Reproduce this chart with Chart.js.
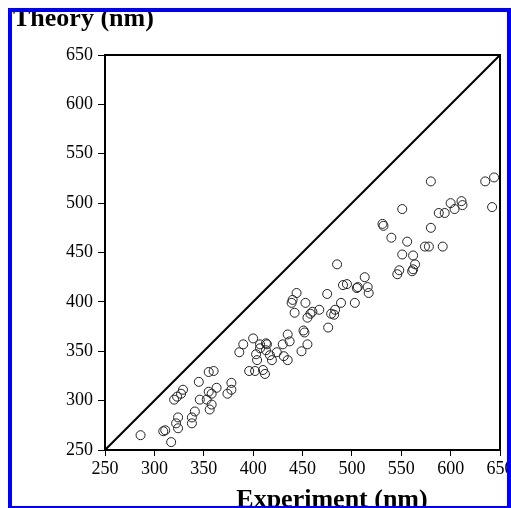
<!DOCTYPE html>
<html lang="en">
<head>
<meta charset="UTF-8">
<title>Theory vs Experiment</title>
<script src="https://cdn.jsdelivr.net/npm/chart.js@4.4.1/dist/chart.umd.min.js"></script>
<style>
    html, body {
        margin: 0;
        padding: 0;
        background: #fff;
        overflow: hidden;
    }

    .frame {
        position: absolute;
        left: 8px;
        top: 8px;
        width: 503px;
        height: 502px;
        box-sizing: border-box;
        border: 4px solid #0000ff;
        overflow: hidden;
        background: #fff;
    }

    .chart-box {
        position: relative;
        width: 495px;
        height: 494px;
    }
</style>
</head>
<body>

<div class="frame">
    <div class="chart-box">
        <canvas id="parityChart"></canvas>
    </div>
</div>

<script>
// measured wavelengths (nm)
const experiment = [
    286, 309, 311, 317, 322, 324, 324, 338, 338, 341,
    320, 323, 327, 329, 345, 346, 353, 356, 358, 355,
    358, 363, 355, 360, 374, 378, 378, 386, 390, 400,
    396, 402, 412, 403, 404, 407, 414, 413, 417, 419,
    424, 430, 431, 435, 435, 437, 451, 452, 455, 449,
    439, 440, 442, 444, 453, 458, 460, 455, 467, 475,
    476, 479, 482, 483, 485, 489, 491, 495, 503, 505,
    506, 513, 516, 517, 531, 532, 540, 546, 548, 551,
    551, 556, 561, 562, 562, 564, 574, 578, 580, 580,
    588, 592, 594, 600, 604, 611, 612, 635, 642, 644,
    407, 413, 410
];
// computed wavelengths (nm)
const theory = [
    265, 269, 270, 258, 277, 272, 283, 277, 283, 289,
    301, 304, 307, 311, 319, 301, 301, 291, 296, 309,
    307, 313, 329, 330, 307, 318, 311, 349, 357, 363,
    330, 330, 327, 347, 341, 353, 357, 351, 346, 341,
    349, 357, 345, 341, 367, 360, 371, 369, 357, 350,
    399, 402, 389, 409, 399, 388, 390, 384, 392, 408,
    374, 388, 387, 392, 438, 399, 417, 418, 399, 414,
    415, 425, 415, 409, 479, 477, 465, 428, 432, 448,
    494, 461, 431, 433, 447, 438, 456, 456, 475, 522,
    490, 456, 490, 500, 494, 502, 498, 522, 496, 526,
    357, 358, 331
];
const axisMin = 250;
const axisMax = 650;
const axisStep = 50;

const points = experiment.map((x, i) => ({ x: x, y: theory[i] }));
const parityLine = [{ x: axisMin, y: axisMin }, { x: axisMax, y: axisMax }];

const serif = '"Liberation Serif", "DejaVu Serif", serif';

// closes the plot box on all four sides
const boxPlugin = {
    id: 'plotBox',
    afterDatasetsDraw(chart) {
        const a = chart.chartArea;
        const ctx = chart.ctx;
        ctx.save();
        ctx.strokeStyle = '#000';
        ctx.lineWidth = 2;
        ctx.strokeRect(a.left, a.top, a.right - a.left, a.bottom - a.top);
        ctx.restore();
    }
};

// axis titles sit where the original figure put them
const titlePlugin = {
    id: 'axisTitles',
    afterDraw(chart) {
        const ctx = chart.ctx;
        ctx.save();
        ctx.fillStyle = '#000';
        ctx.font = 'bold 26px ' + serif;
        ctx.textBaseline = 'alphabetic';
        ctx.textAlign = 'left';
        ctx.fillText('Theory (nm)', 1, 14);
        ctx.textAlign = 'center';
        ctx.fillText('Experiment (nm)', 320, 495);
        ctx.restore();
    }
};

const tickFont = { family: serif, size: 18 };

new Chart(document.getElementById('parityChart'), {
    type: 'scatter',
    data: {
        datasets: [
            {
                type: 'line',
                data: parityLine,
                borderColor: '#000',
                borderWidth: 2,
                pointRadius: 0,
                fill: false
            },
            {
                data: points,
                pointRadius: 4.5,
                pointBorderWidth: 1,
                pointBorderColor: '#222',
                pointBackgroundColor: 'rgba(0,0,0,0)'
            }
        ]
    },
    options: {
        responsive: true,
        maintainAspectRatio: false,
        animation: false,
        layout: { padding: { top: 43, right: 7, left: 0, bottom: 0 } },
        plugins: {
            legend: { display: false },
            tooltip: { enabled: false }
        },
        scales: {
            x: {
                type: 'linear',
                min: axisMin,
                max: axisMax,
                ticks: { stepSize: axisStep, color: '#000', font: tickFont, padding: 2, autoSkip: false, maxRotation: 0 },
                grid: { drawOnChartArea: false, tickLength: 6, color: '#000', lineWidth: 1 },
                border: { color: '#000', width: 2 },
                afterFit: s => { s.height = 56; s.paddingLeft = 0; s.paddingRight = 0; }
            },
            y: {
                type: 'linear',
                min: axisMin,
                max: axisMax,
                ticks: { stepSize: axisStep, color: '#000', font: tickFont, padding: 5, autoSkip: false },
                grid: { drawOnChartArea: false, tickLength: 7, color: '#000', lineWidth: 1 },
                border: { color: '#000', width: 2 },
                afterFit: s => { s.width = 93; s.paddingTop = 0; s.paddingBottom = 0; }
            }
        }
    },
    plugins: [boxPlugin, titlePlugin]
});
</script>

</body>
</html>
